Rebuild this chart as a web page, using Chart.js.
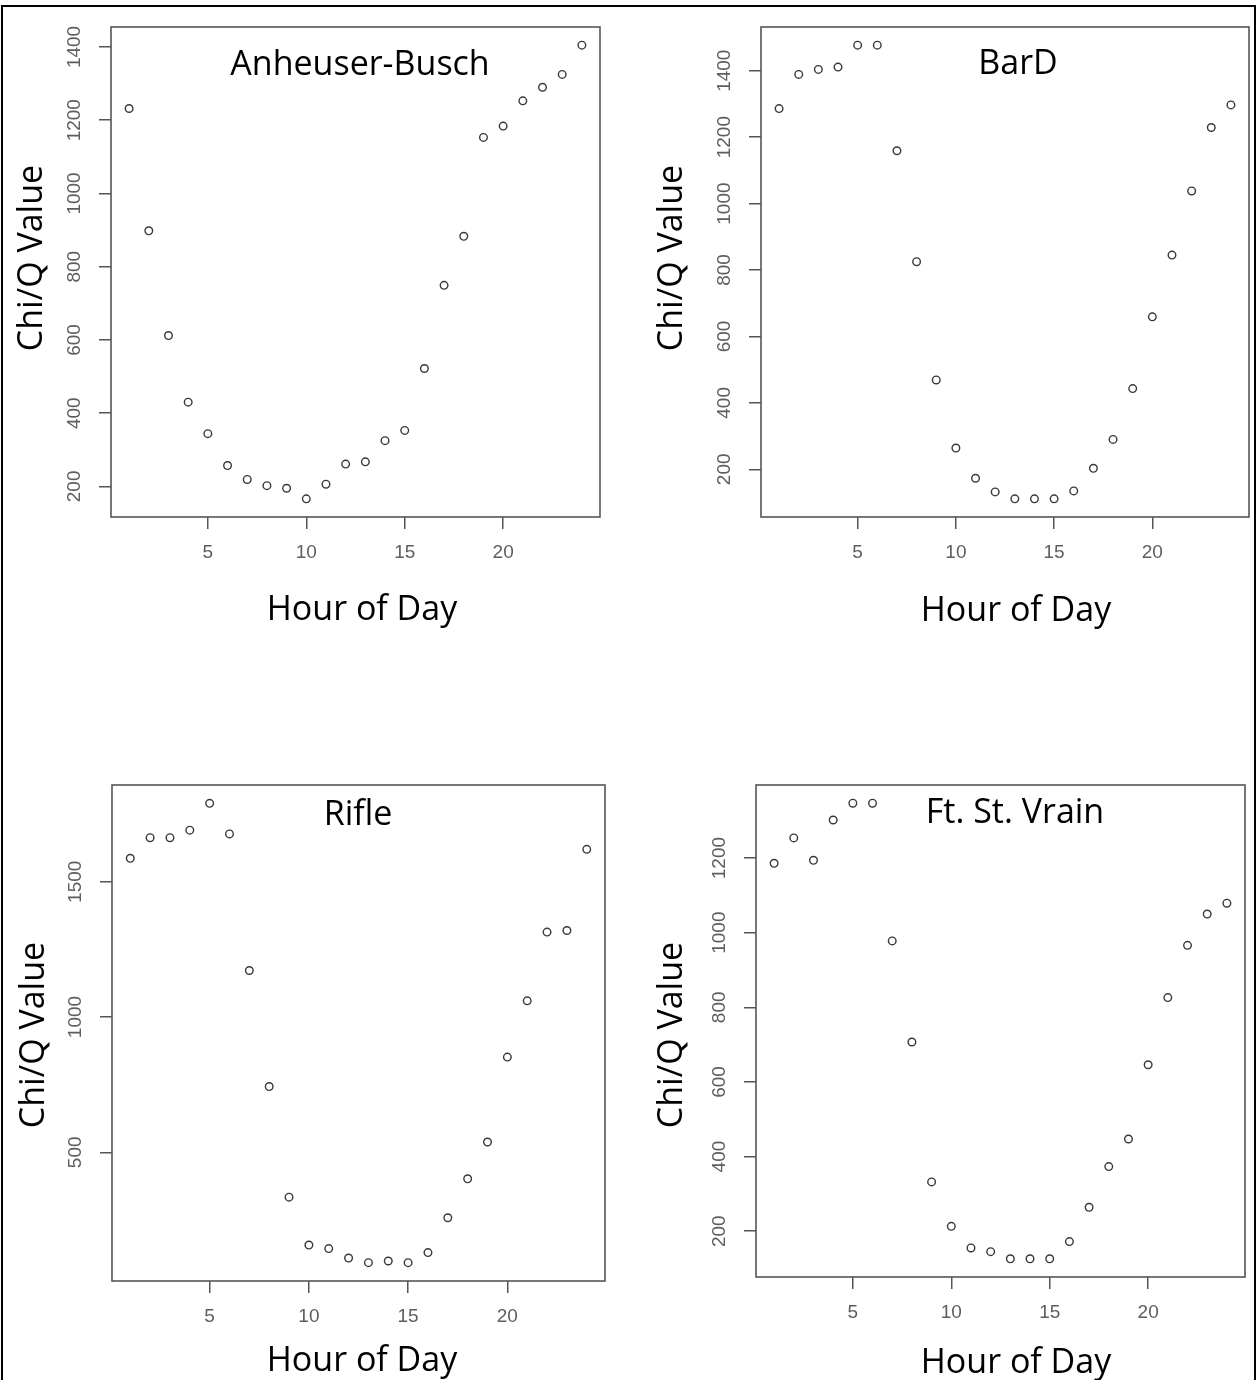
<!DOCTYPE html>
<html>
<head>
<meta charset="utf-8">
<title>Chi/Q Value by Hour of Day</title>
<script src="https://cdn.jsdelivr.net/npm/chart.js@4.4.1/dist/chart.umd.min.js"></script>
<style>
  html, body { margin: 0; padding: 0; background: #fff; }
  body { width: 1257px; height: 1380px; position: relative; overflow: hidden; }
  #frame { position: absolute; left: 1px; top: 5px; width: 1255px; height: 1400px; border: 2px solid #000; box-sizing: border-box; }
  canvas { position: absolute; }
</style>
</head>
<body>
<div id="frame"></div>
<canvas id="c1" width="628" height="690" style="left:0px;top:0px"></canvas>
<canvas id="c2" width="629" height="690" style="left:628px;top:0px"></canvas>
<canvas id="c3" width="628" height="690" style="left:0px;top:690px"></canvas>
<canvas id="c4" width="629" height="690" style="left:628px;top:690px"></canvas>
<script>
// hour of day, same for all four sites
const hours = [1, 2, 3, 4, 5, 6, 7, 8, 9, 10, 11, 12, 13, 14, 15, 16, 17, 18, 19, 20, 21, 22, 23, 24];
const hourTicks = [5, 10, 15, 20];

const anheuserBusch = [1232, 898, 612, 430, 344, 257, 219, 202, 195, 166, 206, 261, 267, 325, 353, 522, 749, 883, 1153, 1184, 1253, 1290, 1325, 1405];
const anheuserTicks = [200, 400, 600, 800, 1000, 1200, 1400];

const barD = [1286, 1389, 1404, 1411, 1477, 1477, 1159, 825, 469, 264, 173, 132, 111, 111, 111, 135, 203, 290, 443, 659, 845, 1038, 1229, 1297];
const barDTicks = [200, 400, 600, 800, 1000, 1200, 1400];

const rifle = [1587, 1663, 1663, 1691, 1790, 1677, 1172, 743, 334, 157, 144, 109, 92, 98, 92, 129, 258, 402, 538, 852, 1060, 1314, 1320, 1620];
const rifleTicks = [500, 1000, 1500];

const ftStVrain = [1186, 1254, 1194, 1302, 1347, 1347, 978, 707, 332, 213, 155, 145, 126, 126, 126, 172, 264, 373, 447, 646, 826, 966, 1050, 1079];
const ftStVrainTicks = [200, 400, 600, 800, 1000, 1200];

const xLabel = 'Hour of Day';
const yLabel = 'Chi/Q Value';

// panel layout (canvas-local pixels)
const panels = [
  { id: 'c1', name: 'Anheuser-Busch', values: anheuserBusch, yTicks: anheuserTicks,
    area: { left: 111, top: 27, right: 600, bottom: 517 },
    titleAt: [360, 75], xTitleAt: [362, 620], yTitleAt: [42, 258] },
  { id: 'c2', name: 'BarD', values: barD, yTicks: barDTicks,
    area: { left: 133, top: 27, right: 621, bottom: 517 },
    titleAt: [390, 74], xTitleAt: [388, 621], yTitleAt: [54, 258] },
  { id: 'c3', name: 'Rifle', values: rifle, yTicks: rifleTicks,
    area: { left: 112, top: 95, right: 605, bottom: 591 },
    titleAt: [358, 135], xTitleAt: [362, 681], yTitleAt: [44, 345] },
  { id: 'c4', name: 'Ft. St. Vrain', values: ftStVrain, yTicks: ftStVrainTicks,
    area: { left: 128, top: 95, right: 617, bottom: 587 },
    titleAt: [387, 133], xTitleAt: [388, 683], yTitleAt: [54, 345] }
];

// R style axis range: data range stretched by 4% each side
function rRange(vals) {
  const lo = Math.min(...vals), hi = Math.max(...vals);
  const pad = (hi - lo) * 0.04;
  return [lo - pad, hi + pad];
}

const boxAndText = {
  id: 'boxAndText',
  beforeDatasetsDraw(chart) {
    const { ctx, chartArea: a } = chart;
    ctx.save();
    ctx.strokeStyle = '#555';
    ctx.lineWidth = 1.6;
    ctx.strokeRect(a.left, a.top, a.right - a.left, a.bottom - a.top);
    ctx.restore();
  },
  afterDraw(chart, args, o) {
    const ctx = chart.ctx;
    ctx.save();
    ctx.fillStyle = '#000';
    ctx.font = '34px "Open Sans"';
    ctx.textAlign = 'center';
    ctx.textBaseline = 'alphabetic';
    ctx.fillText(o.title, o.titleAt[0], o.titleAt[1]);
    ctx.fillText(o.xTitle, o.xTitleAt[0], o.xTitleAt[1]);
    ctx.translate(o.yTitleAt[0], o.yTitleAt[1]);
    ctx.rotate(-Math.PI / 2);
    ctx.fillText(o.yTitle, 0, 0);
    ctx.restore();
  }
};

const tickFont = { family: '"Liberation Sans", Arial, sans-serif', size: 19 };
const tickColor = '#5e5e5e';

panels.forEach(function (p) {
  const canvas = document.getElementById(p.id);
  const W = canvas.width, H = canvas.height;
  const xr = rRange(hours);
  const yr = rRange(p.values);

  new Chart(canvas, {
    type: 'scatter',
    data: {
      datasets: [{
        label: p.name,
        data: hours.map((h, i) => ({ x: h, y: p.values[i] })),
        pointStyle: 'circle',
        pointRadius: 3.8,
        pointBorderWidth: 1.4,
        pointBorderColor: '#383838',
        pointBackgroundColor: 'rgba(0,0,0,0)'
      }]
    },
    options: {
      responsive: false,
      animation: false,
      events: [],
      layout: { padding: { left: 0, top: p.area.top, right: W - p.area.right, bottom: 0 } },
      plugins: {
        legend: { display: false },
        tooltip: { enabled: false },
        boxAndText: {
          title: p.name, titleAt: p.titleAt,
          xTitle: xLabel, xTitleAt: p.xTitleAt,
          yTitle: yLabel, yTitleAt: p.yTitleAt
        }
      },
      scales: {
        x: {
          type: 'linear',
          min: xr[0],
          max: xr[1],
          afterBuildTicks: s => { s.ticks = hourTicks.map(v => ({ value: v })); },
          afterFit: s => { s.height = H - p.area.bottom; },
          border: { display: false },
          grid: { display: true, drawOnChartArea: false, drawTicks: true, tickLength: 12, color: '#555', lineWidth: 1.5 },
          ticks: { color: tickColor, font: tickFont, padding: 12, maxRotation: 0, callback: v => String(v) }
        },
        y: {
          type: 'linear',
          min: yr[0],
          max: yr[1],
          afterBuildTicks: s => { s.ticks = p.yTicks.map(v => ({ value: v })); },
          afterFit: s => { s.width = p.area.left; },
          border: { display: false },
          grid: { display: true, drawOnChartArea: false, drawTicks: true, tickLength: 12, color: '#555', lineWidth: 1.5 },
          ticks: { color: tickColor, font: tickFont, padding: 3, minRotation: 90, maxRotation: 90, crossAlign: 'center', callback: v => String(v) }
        }
      }
    },
    plugins: [boxAndText]
  });
});
</script>
</body>
</html>
